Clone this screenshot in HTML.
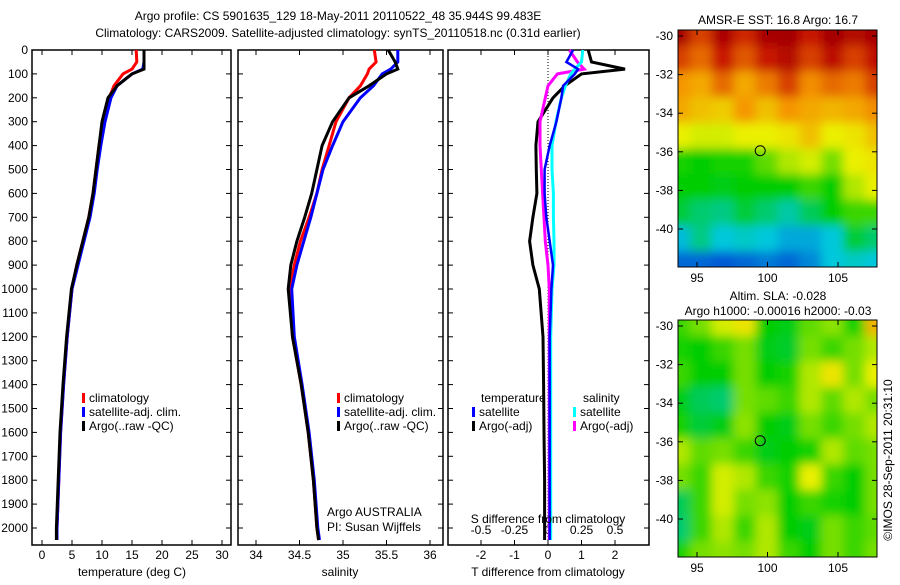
<!DOCTYPE html>
<html><head><meta charset="utf-8"><style>
body{margin:0;background:#fff}
svg text{font-family:"Liberation Sans",sans-serif;font-size:12px;fill:#000}
</style></head><body>
<svg id="c" width="900" height="580" xmlns="http://www.w3.org/2000/svg">
<defs>
<filter id="bl" filterUnits="userSpaceOnUse" x="660" y="0" width="240" height="580"><feGaussianBlur stdDeviation="5"/></filter>
<clipPath id="m1"><rect x="678" y="30" width="199" height="237"/></clipPath>
<clipPath id="m2"><rect x="678" y="320" width="199" height="237"/></clipPath>
</defs>
<text x="338" y="20" text-anchor="middle" font-size="13">Argo profile: CS 5901635_129 18-May-2011 20110522_48 35.944S 99.483E</text>
<text x="338" y="37" text-anchor="middle" font-size="13">Climatology: CARS2009. Satellite-adjusted climatology: synTS_20110518.nc (0.31d earlier)</text>
<g id="plots"></g>
<text x="778" y="24" text-anchor="middle">AMSR-E SST: 16.8 Argo: 16.7</text>
<text x="778" y="300" text-anchor="middle">Altim. SLA: -0.028</text>
<text x="778" y="315" text-anchor="middle">Argo h1000: -0.00016 h2000: -0.03</text>
<text transform="translate(892,460) rotate(-90)" text-anchor="middle">©IMOS 28-Sep-2011 20:31:10</text>
<text x="327" y="516">Argo AUSTRALIA</text>
<text x="327" y="531">PI: Susan Wijffels</text>
</svg>
<script>
const depths=[0,50,80,100,150,200,300,400,500,600,700,800,900,1000,1200,1400,1600,1800,2000,2050];
const tClim=[15.7,15.8,15,13.5,12,11.2,10.2,9.5,9,8.5,7.8,6.8,5.8,5,4.2,3.6,3.1,2.8,2.5,2.5];
const tSat=[17,17,16.8,15,12.5,11.5,10.5,9.8,9.2,8.7,8,7,6,5,4.2,3.6,3.1,2.8,2.5,2.5];
const tArgo=[17,17,17,15,12.5,11,10,9.5,9,8.5,7.8,6.8,5.8,4.9,4.1,3.5,3.0,2.7,2.4,2.4];
const sClim=[35.36,35.38,35.3,35.28,35.2,35.07,34.92,34.84,34.76,34.7,34.61,34.51,34.44,34.39,34.42,34.52,34.6,34.66,34.7,34.72];
const sSat=[35.63,35.63,35.55,35.45,35.35,35.2,35.0,34.88,34.77,34.7,34.63,34.55,34.47,34.41,34.44,34.53,34.61,34.67,34.71,34.73];
const sArgo=[35.52,35.6,35.63,35.5,35.3,35.07,34.88,34.76,34.7,34.64,34.56,34.47,34.4,34.37,34.42,34.52,34.6,34.66,34.7,34.72];
const dTSat=[0.75,0.55,0.9,0.8,0.45,0.4,0.25,0.05,-0.1,-0.1,-0.05,0.05,0.15,0.1,0.05,0.05,0.05,0.05,0.05,0.05];
const dTArgo=[1.2,1.3,2.3,1.0,0.5,0.15,-0.3,-0.36,-0.35,-0.33,-0.45,-0.55,-0.45,-0.26,-0.15,-0.13,-0.12,-0.1,-0.1,-0.1];
const dSSat=[0.26,0.25,0.2,0.17,0.13,0.1,0.06,0.03,0.03,0.04,0.04,0.045,0.045,0.03,0.02,0.02,0.02,0.02,0.02,0.02];
const dSArgo=[0.16,0.22,0.27,0.07,0.0,-0.02,-0.06,-0.06,-0.05,-0.04,-0.03,-0.02,0,0.01,0.01,0.01,0.01,0.01,0.01,0.01];
const depthTicks=[0,100,200,300,400,500,600,700,800,900,1000,1100,1200,1300,1400,1500,1600,1700,1800,1900,2000];
const tTicks=[0,5,10,15,20,25,30];
const sTicks=[34,34.5,35,35.5,36];
const dtTicks=[-2,-1,0,1,2];
const dsTicks=[-0.5,-0.25,0,0.25,0.5];
const sstGrid=[[.98,.85,.97,.88,.98,.99,.9,.99,.95,.98],[.85,.8,.9,.82,.9,.95,.85,.93,.85,.92],[.75,.72,.8,.72,.78,.85,.76,.8,.78,.85],[.72,.68,.66,.75,.68,.75,.72,.7,.72,.76],[.6,.58,.58,.6,.6,.62,.68,.6,.62,.68],[.42,.4,.42,.42,.48,.55,.58,.5,.6,.62],[.4,.4,.38,.4,.4,.4,.45,.4,.55,.6],[.35,.3,.28,.35,.3,.25,.32,.4,.45,.45],[.18,.28,.2,.22,.2,.15,.15,.2,.35,.3],[.05,.05,.03,.05,.08,.05,.1,.2,.22,.2]];
const slaGrid=[[.45,.5,.58,.62,.4,.38,.48,.52,.42,.7],[.42,.4,.45,.5,.38,.36,.5,.45,.5,.55],[.45,.4,.4,.5,.4,.42,.55,.62,.5,.6],[.38,.32,.3,.5,.48,.45,.55,.48,.55,.5],[.42,.35,.38,.52,.4,.38,.5,.45,.5,.55],[.55,.48,.5,.45,.38,.4,.42,.55,.48,.5],[.5,.45,.58,.55,.45,.42,.6,.45,.4,.5],[.32,.45,.58,.5,.52,.4,.45,.42,.4,.5],[.3,.45,.55,.45,.55,.4,.38,.5,.45,.48],[.42,.5,.52,.5,.55,.45,.4,.5,.45,.5]];
const NS="http://www.w3.org/2000/svg";
const root=document.getElementById('plots');
function el(t,a,p){const e=document.createElementNS(NS,t);for(const k in a)e.setAttribute(k,a[k]);(p||root).appendChild(e);return e;}
const Y0=50,Y1=545;const yD=d=>Y0+d*0.239;
function frame(x0,x1,name){const r=el('rect',{x:x0,y:Y0,width:x1-x0,height:Y1-Y0,fill:'none',stroke:'#000','stroke-width':1.5});

depthTicks.forEach(d=>{el('line',{x1:x0,x2:x0+5,y1:yD(d),y2:yD(d),stroke:'#000'});el('line',{x1:x1,x2:x1-5,y1:yD(d),y2:yD(d),stroke:'#000'});});}
function xticks(x0,x1,ticks,fx,ly,name){ticks.forEach(v=>{const x=fx(v);el('line',{x1:x,x2:x,y1:Y1,y2:Y1-5,stroke:'#000'});el('line',{x1:x,x2:x,y1:Y0,y2:Y0+5,stroke:'#000'});
const t=el('text',{x:x,y:ly,'text-anchor':'middle'});t.textContent=v;});}
function line(vals,fx,color,name,w){const d=vals.map((v,i)=>(i?'L':'M')+fx(v).toFixed(1)+','+yD(depths[i]).toFixed(1)).join('');
const p=el('path',{d:d,fill:'none',stroke:color,'stroke-width':w||3});}
function txt(x,y,s,name,anchor){const t=el('text',{x:x,y:y,'text-anchor':anchor||'start'});t.textContent=s;}
function leg(x,y,c,s,name){el('rect',{x:x,y:y-9,width:3,height:10,fill:c});txt(x+7,y,s,name);}
depthTicks.forEach(d=>txt(28,yD(d)+4,String(d),'depth-tick-label','end'));
const fT=v=>42+v*6;
frame(32,231,'temperature-panel');xticks(32,231,tTicks,fT,559,'temperature-tick-label');
line(tClim,fT,'#f00','temp-climatology-line');line(tSat,fT,'#00f','temp-satellite-line');line(tArgo,fT,'#000','temp-argo-line');
txt(132,576,'temperature (deg C)','temperature-axis-title','middle');
leg(82,402,'#f00','climatology','legend-climatology');leg(82,416,'#00f','satellite-adj. clim.','legend-satellite');leg(82,430,'#000','Argo(..raw -QC)','legend-argo');
const fS=v=>256+(v-34)*87;
frame(238,443,'salinity-panel');xticks(238,443,sTicks,fS,559,'salinity-tick-label');
line(sClim,fS,'#f00','sal-climatology-line');line(sSat,fS,'#00f','sal-satellite-line');line(sArgo,fS,'#000','sal-argo-line');
txt(340,576,'salinity','salinity-axis-title','middle');
leg(337,402,'#f00','climatology','legend-climatology-2');leg(337,416,'#00f','satellite-adj. clim.','legend-satellite-2');leg(337,430,'#000','Argo(..raw -QC)','legend-argo-2');
const fdT=v=>548+v*33.5, fdS=v=>548+v*134;
frame(448,649,'difference-panel');xticks(448,649,dtTicks,fdT,559,'t-diff-tick-label');
dsTicks.forEach(v=>txt(fdS(v),534,String(v),'s-diff-tick-label','middle'));
el('line',{x1:548,x2:548,y1:Y0,y2:Y1,stroke:'#000','stroke-dasharray':'1,2'});
line(dTArgo,fdT,'#000','t-diff-argo-line');line(dSArgo,fdS,'#f0f','s-diff-argo-line');line(dSSat,fdS,'#0ff','s-diff-satellite-line');line(dTSat,fdT,'#00f','t-diff-satellite-line',2.5);
txt(548,523,'S difference from climatology','s-diff-axis-title','middle');
txt(548,576,'T difference from climatology','t-diff-axis-title','middle');
txt(481,402,'temperature','legend-temperature-header');txt(583,402,'salinity','legend-salinity-header');
leg(472,416,'#00f','satellite','legend-t-satellite');leg(472,430,'#000','Argo(-adj)','legend-t-argo');
leg(573,416,'#0ff','satellite','legend-s-satellite');leg(573,430,'#f0f','Argo(-adj)','legend-s-argo');
const stops=[[0,[0,70,210]],[0.2,[0,200,220]],[0.4,[0,205,0]],[0.6,[235,240,0]],[0.75,[245,150,0]],[0.9,[200,20,0]],[1,[160,0,0]]];
function cmap(v){for(let i=1;i<stops.length;i++){if(v<=stops[i][0]){const a=stops[i-1],b=stops[i],t=(v-a[0])/(b[0]-a[0]);return 'rgb('+a[1].map((c,k)=>Math.round(c+(b[1][k]-c)*t)).join(',')+')';}}return 'rgb(160,0,0)';}
function map(grid,y0,clip,name){const W=199,H=237;const g=el('g',{'clip-path':'url(#'+clip+')'});
const inner=el('g',{filter:'url(#bl)'},g);const cw=(W+20)/grid[0].length,ch=(H+20)/grid.length;
grid.forEach((row,i)=>row.forEach((v,j)=>el('rect',{x:668+j*cw,y:y0-10+i*ch,width:cw+1,height:ch+1,fill:cmap(v)},inner)));
el('rect',{x:678,y:y0,width:W,height:H,fill:'none',stroke:'#000'});
const lonX=v=>697+(v-95)*14.1, latY=v=>y0+6+(-30-v)*19.3;
[95,100,105].forEach(v=>{el('line',{x1:lonX(v),x2:lonX(v),y1:y0+H,y2:y0+H-5,stroke:'#000'});el('line',{x1:lonX(v),x2:lonX(v),y1:y0,y2:y0+5,stroke:'#000'});txt(lonX(v),y0+H+15,String(v),'lon-tick-label','middle');});
[-30,-32,-34,-36,-38,-40].forEach(v=>{el('line',{x1:678,x2:683,y1:latY(v),y2:latY(v),stroke:'#000'});el('line',{x1:877,x2:872,y1:latY(v),y2:latY(v),stroke:'#000'});txt(673,latY(v)+4,String(v),'lat-tick-label','end');});
const c=el('circle',{cx:lonX(99.483),cy:latY(-35.944),r:5,fill:'none',stroke:'#000'});}
map(sstGrid,30,'m1','sst-map');map(slaGrid,320,'m2','sla-map');
</script>
</body></html>
